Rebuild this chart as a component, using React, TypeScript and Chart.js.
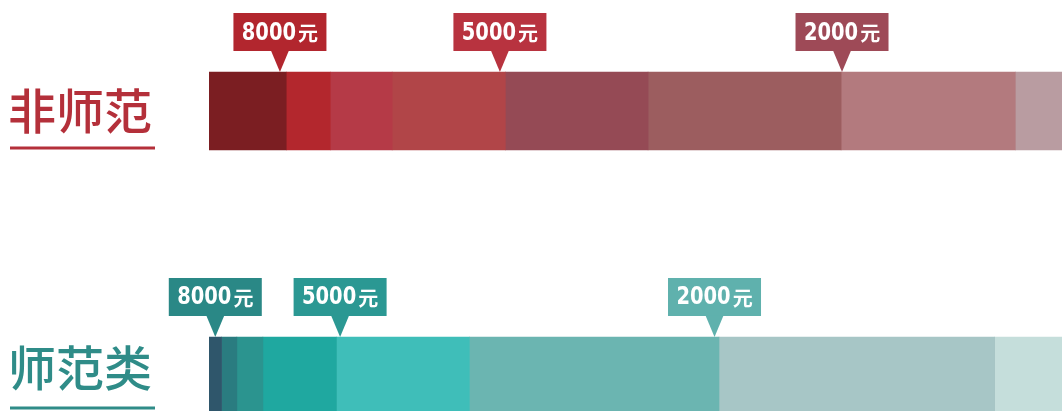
import React, { useEffect, useRef } from "react";
import { Chart, registerables } from "chart.js";

Chart.register(...registerables);

// Row labels
const rowLabels = ["非师范", "师范类"];
// Share of graduates per salary band (highest band first), percent; the last band runs past the visible edge
const nonTeacherShares = [8.6, 4.9, 6.9, 12.6, 15.9, 21.5, 19.4, 10.2];
const teacherShares = [1.4, 1.7, 2.9, 8.2, 14.8, 27.8, 30.7, 12.5];
// Salary threshold markers
const markerLabels = ["8000", "5000", "2000"];
const nonTeacherMarkers = [7.9, 32.4, 70.5];
const teacherMarkers = [0.7, 14.6, 56.3];

const redShades = ["#7b1e22", "#b3272d", "#b53a47", "#b14548", "#954a55", "#9c5d5f", "#b37a7e", "#b99ca1"];
const tealShades = ["#2f566b", "#2a7c80", "#2b948f", "#1fa8a0", "#3fbeb9", "#6bb5b1", "#a7c6c6", "#c5dedb"];
const redMarkerColors = ["#b2262e", "#b8333f", "#9e4a57"];
const tealMarkerColors = ["#2a8886", "#2b9893", "#5fb1ad"];
const rowColors = ["#b4303a", "#2f8c88"];

const W = 1062;
const H = 411;
const BAR = 78;

export default function App() {
  const ref = useRef<HTMLCanvasElement | null>(null);

  useEffect(() => {
    document.body.style.margin = "0";
    const canvas = ref.current;
    if (!canvas) return;

    const datasets = nonTeacherShares.map((v, i) => ({
      label: "band" + i,
      data: [
        { x: v, y: 1 },
        { x: teacherShares[i], y: 0 },
      ],
      backgroundColor: [redShades[i], tealShades[i]],
      borderWidth: 0,
      barThickness: BAR,
    }));

    const overlay = {
      id: "overlay",
      afterDatasetsDraw(chart: any) {
        const ctx = chart.ctx as CanvasRenderingContext2D;
        const xs = chart.scales.x;
        const ys = chart.scales.y;
        const rows = [
          { y: 1, marks: nonTeacherMarkers, colors: redMarkerColors, titleY: 111, lineY: 148 },
          { y: 0, marks: teacherMarkers, colors: tealMarkerColors, titleY: 368, lineY: 408 },
        ];
        ctx.save();
        rows.forEach((row, r) => {
          // title
          ctx.fillStyle = rowColors[r];
          ctx.font = "500 48px 'Noto Sans CJK SC'";
          ctx.textAlign = "left";
          ctx.textBaseline = "middle";
          ctx.fillText(rowLabels[r], 8, row.titleY);
          ctx.fillRect(10, row.lineY - 1.5, 145, 3);

          const barTop = ys.getPixelForValue(row.y) - BAR / 2;
          const arrowH = 21;
          const boxH = 38;
          const boxW = 93;
          row.marks.forEach((m, k) => {
            const px = xs.getPixelForValue(m);
            const boxBottom = barTop - arrowH;
            const boxTop = boxBottom - boxH;
            ctx.fillStyle = row.colors[k];
            ctx.fillRect(px - boxW / 2, boxTop, boxW, boxH);
            ctx.beginPath();
            ctx.moveTo(px - 9, boxBottom - 0.5);
            ctx.lineTo(px + 9, boxBottom - 0.5);
            ctx.lineTo(px, barTop);
            ctx.closePath();
            ctx.fill();
            // label
            const num = markerLabels[k];
            const squeeze = 0.78;
            const numFont = "bold 25px 'DejaVu Sans', sans-serif";
            const yuanFont = "bold 20px 'Noto Sans CJK SC'";
            ctx.fillStyle = "#ffffff";
            ctx.font = numFont;
            const nw = ctx.measureText(num).width * squeeze;
            ctx.font = yuanFont;
            const yw = ctx.measureText("元").width;
            const gap = 2;
            const total = nw + gap + yw;
            const sx = px - total / 2;
            const cy = boxTop + boxH / 2 + 1;
            ctx.textAlign = "left";
            ctx.textBaseline = "middle";
            ctx.save();
            ctx.translate(sx, cy);
            ctx.scale(squeeze, 1);
            ctx.font = numFont;
            ctx.fillText(num, 0, 0);
            ctx.restore();
            ctx.font = yuanFont;
            ctx.fillText("元", sx + nw + gap, cy);
          });
        });
        ctx.restore();
      },
    };

    const chart = new Chart(canvas, {
      type: "bar",
      data: { datasets },
      options: {
        indexAxis: "y",
        animation: false,
        responsive: false,
        maintainAspectRatio: false,
        layout: { padding: { left: 209, right: 0, top: 0, bottom: 0 } },
        plugins: { legend: { display: false }, tooltip: { enabled: false } },
        scales: {
          x: { type: "linear", stacked: true, min: 0, max: 95, display: false, offset: false },
          y: { type: "linear", stacked: true, min: -0.1321, max: 1.4189, display: false, offset: false, grace: 0 },
        },
      },
      plugins: [overlay],
    } as any);

    return () => chart.destroy();
  }, []);

  return (
    <div style={{ width: W, height: H, position: "relative", background: "#ffffff" }}>
      <canvas ref={ref} width={W} height={H} style={{ display: "block" }} />
    </div>
  );
}
